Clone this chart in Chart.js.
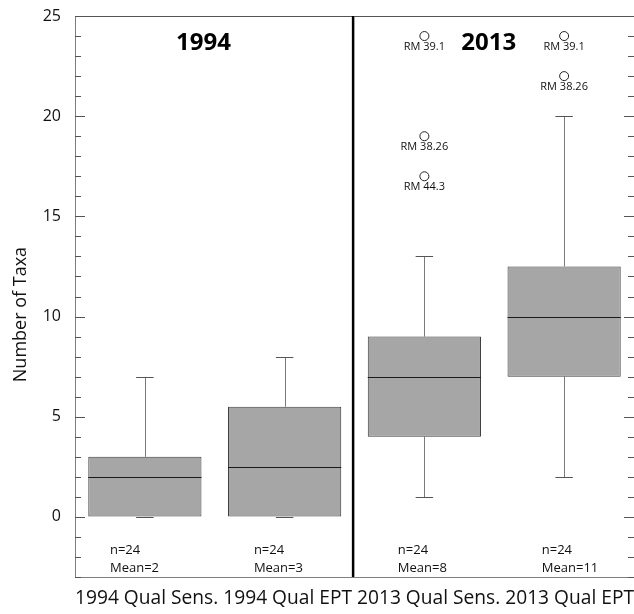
<!DOCTYPE html>
<html>
<head>
<meta charset="utf-8">
<script src="https://cdn.jsdelivr.net/npm/chart.js@4.4.1/dist/chart.umd.min.js"></script>
<style>
html,body{margin:0;padding:0;background:#fff;overflow:hidden;}
#wrap{width:634px;height:614px;}
</style>
</head>
<body>
<div id="wrap"><canvas id="c" width="634" height="614"></canvas></div>
<script>
// ---- data ----
const categories = ['1994 Qual Sens.', '1994 Qual EPT', '2013 Qual Sens.', '2013 Qual EPT'];
const whiskerLow  = [0, 0, 1, 2];
const q1          = [0, 0, 4, 7];
const medians     = [2, 2.5, 7, 10];
const q3          = [3, 5.5, 9, 12.5];
const whiskerHigh = [7, 8, 13, 20];
const counts      = [24, 24, 24, 24];
const means       = [2, 3, 8, 11];
const outlierCat  = [3, 3, 3, 4, 4];
const outlierVal  = [24, 19, 17, 24, 22];
const outlierLab  = ['RM 39.1', 'RM 38.26', 'RM 44.3', 'RM 39.1', 'RM 38.26'];
const periodLabels = ['1994', '2013'];
const yTickValues = [0, 5, 10, 15, 20, 25];
const yTitle = 'Number of Taxa';

const FONT = "'Open Sans', 'Liberation Sans', sans-serif";

const extras = {
  id: 'extras',
  beforeDatasetsDraw(chart) {
    const ctx = chart.ctx, xs = chart.scales.x, ys = chart.scales.y;
    ctx.save();
    ctx.strokeStyle = '#7a7a7a';
    ctx.lineWidth = 1;
    categories.forEach((c, i) => {
      const x = Math.round(xs.getPixelForValue(i + 1)) + 0.5;
      const yHi = Math.round(ys.getPixelForValue(whiskerHigh[i])) + 0.5;
      const yQ3 = ys.getPixelForValue(q3[i]);
      const yLo = Math.round(ys.getPixelForValue(whiskerLow[i])) + 0.5;
      const yQ1 = ys.getPixelForValue(q1[i]);
      ctx.beginPath();
      ctx.moveTo(x, yHi); ctx.lineTo(x, yQ3);
      ctx.moveTo(x, yLo); ctx.lineTo(x, yQ1);
      ctx.stroke();
    });
    ctx.restore();
  },
  afterDatasetsDraw(chart) {
    const ctx = chart.ctx, xs = chart.scales.x, ys = chart.scales.y;
    const area = chart.chartArea;
    const capHalf = (xs.getPixelForValue(1.0625) - xs.getPixelForValue(1));
    const boxHalf = (xs.getPixelForValue(1.405) - xs.getPixelForValue(1));
    ctx.save();
    // caps
    ctx.strokeStyle = '#555';
    ctx.lineWidth = 1;
    categories.forEach((c, i) => {
      const x = xs.getPixelForValue(i + 1);
      const yHi = Math.round(ys.getPixelForValue(whiskerHigh[i])) + 0.5;
      const yLo = Math.round(ys.getPixelForValue(whiskerLow[i])) + 0.5;
      ctx.beginPath();
      ctx.moveTo(x - capHalf, yHi); ctx.lineTo(x + capHalf, yHi);
      ctx.moveTo(x - capHalf, yLo); ctx.lineTo(x + capHalf, yLo);
      ctx.stroke();
    });
    // medians
    ctx.strokeStyle = '#1a1a1a';
    categories.forEach((c, i) => {
      const x = xs.getPixelForValue(i + 1);
      const y = Math.round(ys.getPixelForValue(medians[i])) + 0.5;
      ctx.beginPath();
      ctx.moveTo(x - boxHalf, y); ctx.lineTo(x + boxHalf, y);
      ctx.stroke();
    });
    // top border
    ctx.strokeStyle = '#555';
    ctx.beginPath();
    ctx.moveTo(area.left, Math.round(area.top) + 0.5);
    ctx.lineTo(area.right, Math.round(area.top) + 0.5);
    ctx.stroke();
    // inward ticks on left and right
    ctx.strokeStyle = '#555';
    for (let v = ys.min; v <= ys.max; v++) {
      const y = Math.round(ys.getPixelForValue(v)) + 0.5;
      const len = (v % 5 === 0) ? 10 : 6;
      ctx.beginPath();
      ctx.moveTo(area.left, y); ctx.lineTo(area.left + len, y);
      ctx.moveTo(area.right, y); ctx.lineTo(area.right - len, y);
      ctx.stroke();
    }
    // divider between periods
    ctx.strokeStyle = '#000';
    ctx.lineWidth = 2.5;
    const xd = xs.getPixelForValue(2.49);
    ctx.beginPath();
    ctx.moveTo(xd, area.top); ctx.lineTo(xd, area.bottom);
    ctx.stroke();
    // period headers
    ctx.fillStyle = '#000';
    ctx.font = 'bold 24px ' + FONT;
    ctx.textAlign = 'center';
    ctx.textBaseline = 'middle';
    const yHead = ys.getPixelForValue(23.65);
    ctx.fillText(periodLabels[0], xs.getPixelForValue(1.42), yHead);
    ctx.fillText(periodLabels[1], xs.getPixelForValue(3.46), yHead);
    // outlier labels
    ctx.font = '11px ' + FONT;
    ctx.fillStyle = '#111';
    outlierVal.forEach((v, k) => {
      const x = xs.getPixelForValue(outlierCat[k]);
      const y = ys.getPixelForValue(v) + 11;
      ctx.fillText(outlierLab[k], x, y);
    });
    // n / mean labels
    ctx.font = '13px ' + FONT;
    ctx.textAlign = 'left';
    ctx.fillStyle = '#111';
    categories.forEach((c, i) => {
      const x = xs.getPixelForValue(i + 0.75 + i * 0.03);
      ctx.fillText('n=' + counts[i], x, ys.getPixelForValue(-1.68));
      ctx.fillText('Mean=' + means[i], x, ys.getPixelForValue(-2.58));
    });
    // y title
    ctx.font = '18px ' + FONT;
    ctx.fillStyle = '#111';
    ctx.textAlign = 'center';
    ctx.translate(21, ys.getPixelForValue(10.1));
    ctx.rotate(-Math.PI / 2);
    ctx.fillText(yTitle, 0, 0);
    ctx.restore();
  }
};

function build() {
  new Chart(document.getElementById('c'), {
    type: 'bar',
    data: {
      datasets: [
        {
          type: 'bar',
          data: categories.map((c, i) => ({ x: i + 1, y: [q1[i], q3[i]] })),
          backgroundColor: '#a6a6a6',
          borderColor: '#3c3c3c',
          borderWidth: 1,
          borderSkipped: false,
          barPercentage: 0.81,
          categoryPercentage: 1.0
        },
        {
          type: 'scatter',
          data: outlierVal.map((v, k) => ({ x: outlierCat[k], y: v })),
          pointStyle: 'circle',
          pointRadius: 4.5,
          pointBackgroundColor: '#fff',
          pointBorderColor: '#222',
          pointBorderWidth: 1,
          showLine: false
        }
      ]
    },
    options: {
      responsive: false,
      animation: false,
      devicePixelRatio: 1,
      layout: { autoPadding: false, padding: { top: 16, right: 0, left: 0, bottom: 0 } },
      plugins: { legend: { display: false }, tooltip: { enabled: false }, title: { display: false } },
      scales: {
        x: {
          type: 'linear',
          min: 0.5, max: 4.5,
          offset: false,
          afterBuildTicks(s) { s.ticks = categories.map((c, i) => ({ value: i + 1 })); },
          grid: { display: false, drawTicks: false, offset: false },
          border: { display: true, color: '#7f7f7f', width: 1 },
          ticks: { display: false },
          title: {
            display: true,
            text: categories.join(' '),
            color: '#111',
            font: { family: FONT, size: 19.5 },
            padding: { top: 0, bottom: 4 }
          },
          afterFit(s) { s.height = 37; s.paddingLeft = 0; s.paddingRight = 0; }
        },
        y: {
          type: 'linear',
          min: -3, max: 25,
          afterBuildTicks(s) { s.ticks = yTickValues.map(v => ({ value: v })); },
          ticks: {
            autoSkip: false,
            padding: 14,
            color: '#111',
            font: { family: FONT, size: 16 }
          },
          grid: { drawOnChartArea: false, drawTicks: false },
          border: { display: true, color: '#7f7f7f', width: 1 },
          afterFit(s) { s.width = 75; s.paddingTop = 0; s.paddingBottom = 0; }
        }
      }
    },
    plugins: [extras]
  });
}

if (document.fonts && document.fonts.load) {
  Promise.all([
    document.fonts.load("16px 'Open Sans'"),
    document.fonts.load("bold 24px 'Open Sans'")
  ]).then(build, build);
} else { build(); }
</script>
</body>
</html>
